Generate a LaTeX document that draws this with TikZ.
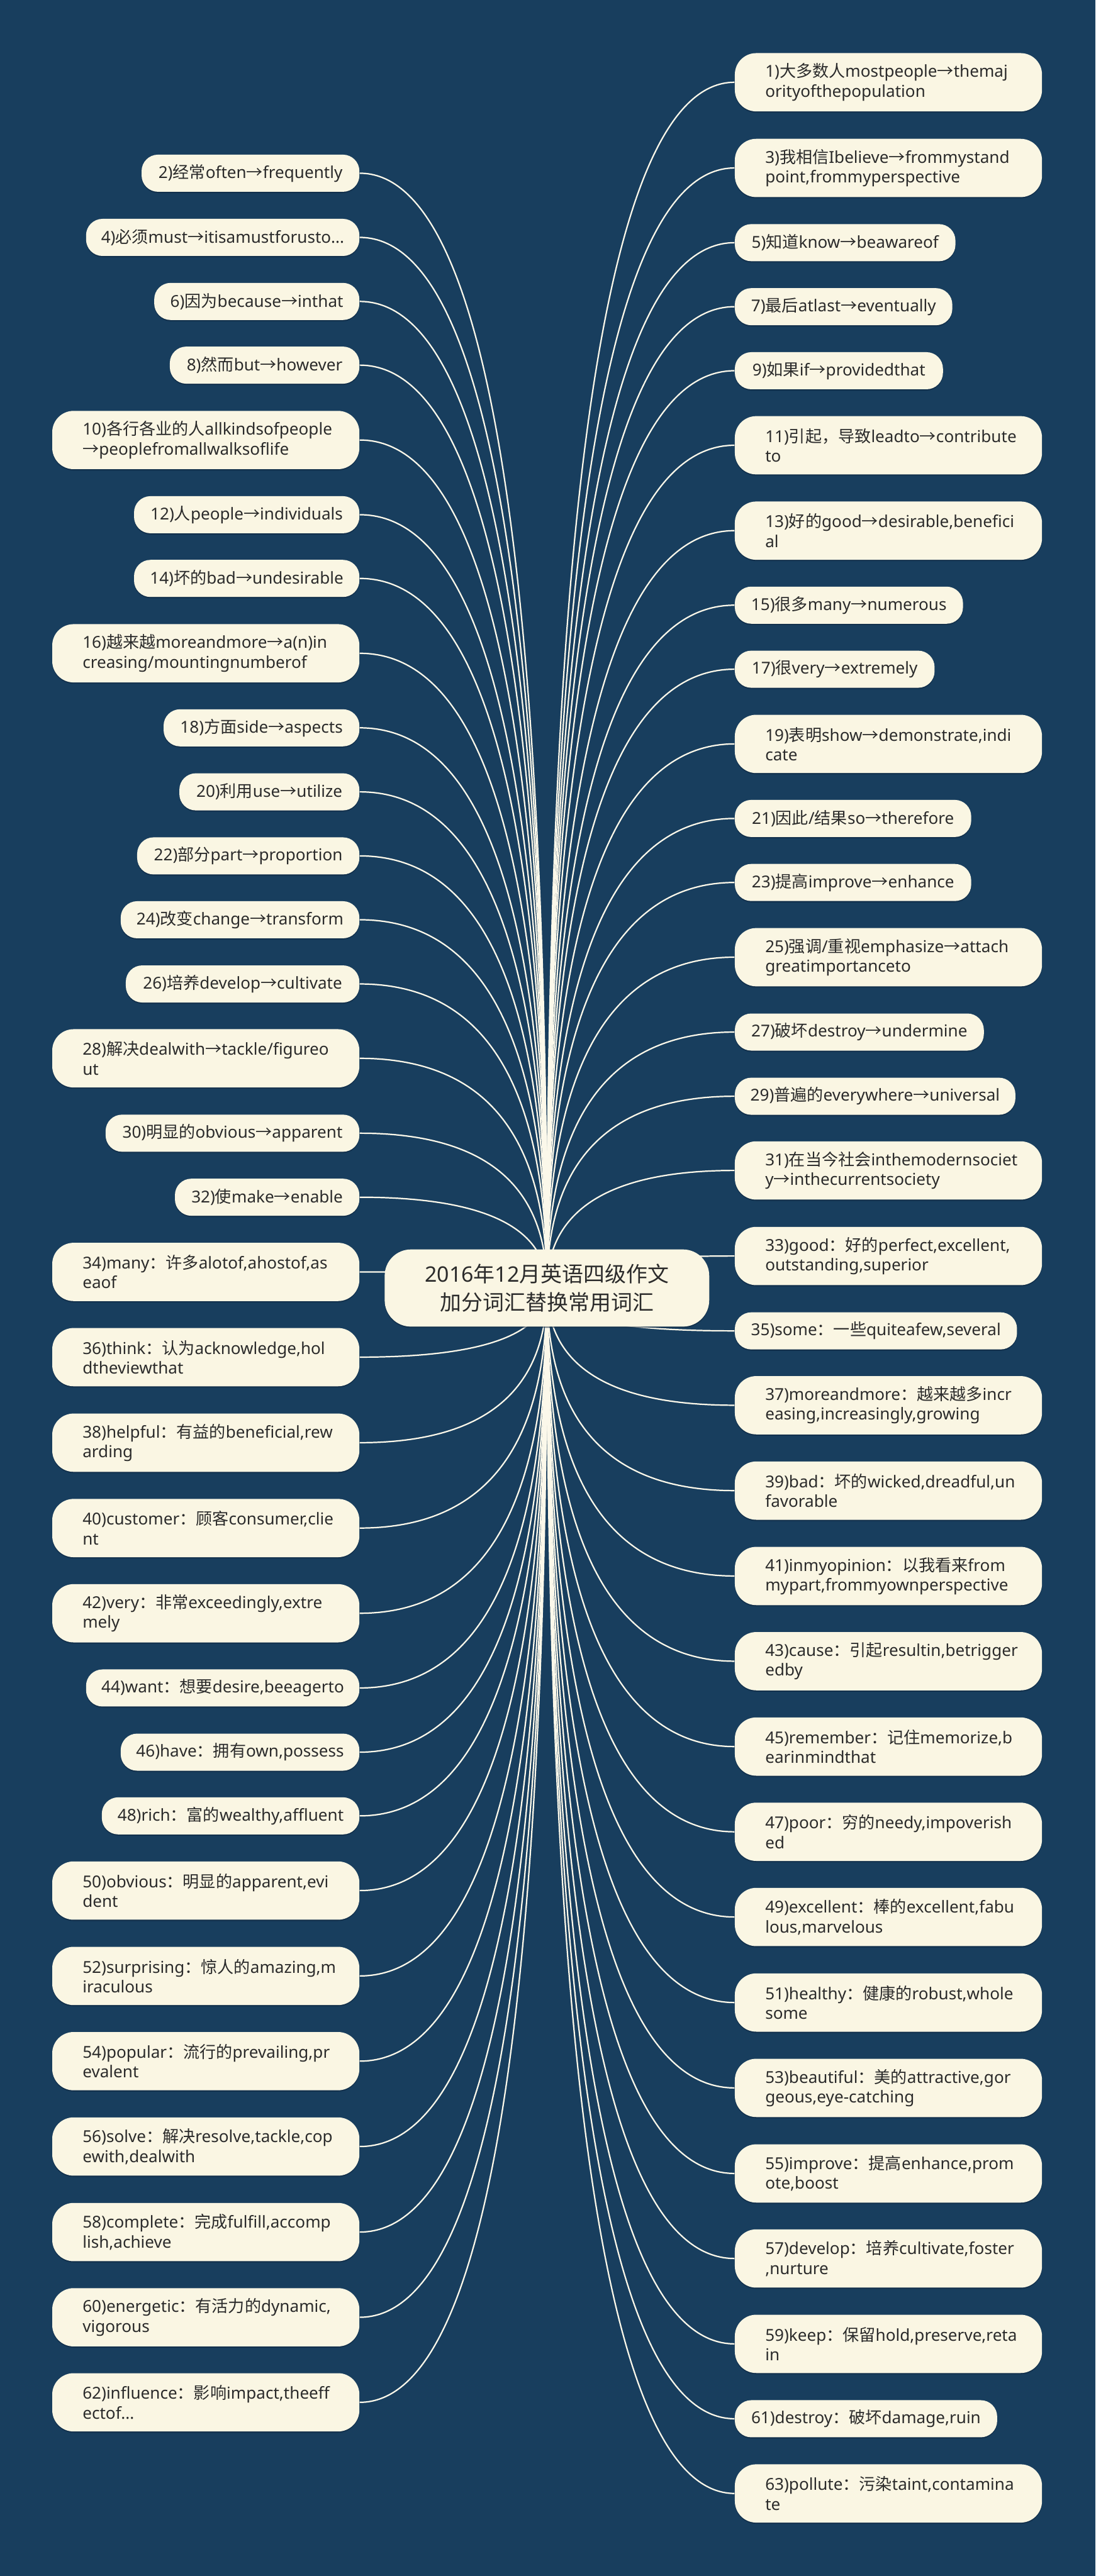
\documentclass[tikz,border=0pt]{standalone}
\usepackage{fontspec}
\setmainfont{Noto Sans}
\newfontfamily\cjkfont{Noto Sans CJK SC}
\usetikzlibrary{calc,shadows}
\chardef\cjkcls=100
\newcount\mycnt
\def\setcls#1#2#3{\mycnt=#1 \loop\XeTeXcharclass\mycnt=#3\relax\ifnum\mycnt<#2 \advance\mycnt by 1 \repeat}
\setcls{"20}{"7E}{0}
\setcls{"3000}{"303F}{\cjkcls}
\setcls{"4E00}{"9FFF}{\cjkcls}
\setcls{"FF00}{"FFEF}{\cjkcls}
\XeTeXcharclass"2192=\cjkcls
\XeTeXinterchartokenstate=1
\XeTeXinterchartoks 0 \cjkcls = {\cjkfont}
\XeTeXinterchartoks 4095 \cjkcls = {\cjkfont}
\XeTeXinterchartoks \cjkcls 0 = {\normalfont}
\XeTeXinterchartoks \cjkcls 4095 = {\normalfont}
\definecolor{bgc}{HTML}{183E5E}
\definecolor{cream}{HTML}{FAF6E3}
\definecolor{linec}{HTML}{FBF8EA}
\definecolor{txt}{HTML}{2B2B2B}
\definecolor{shcol}{HTML}{0E2740}
\pgfdeclarelayer{bgl}
\pgfdeclarelayer{lnl}
\pgfsetlayers{bgl,lnl,main}
\newcommand\lsgl[4]{\node[sgl, anchor=east, minimum width=#3pt] (#1) at (219,#2) {#4};}
\newcommand\rsgl[4]{\node[sgl, anchor=west, minimum width=#3pt] (#1) at (447.2,#2) {#4};}
\newcommand\ldbl[4]{\node[dbl, anchor=east] (#1) at (219,#2) {\mbox{#3}\\\mbox{#4}};}
\newcommand\rdbl[4]{\node[dbl, anchor=west] (#1) at (447.2,#2) {\mbox{#3}\\\mbox{#4}};}
\newcommand\lk[2]{\coordinate (q#1) at (c.center |- #1.#2);
  \draw[conn] (c.center) .. controls ($(c.center)!0.6667!(q#1)$) and ($(#1.#2)!0.6667!(q#1)$) .. (#1.#2);}
\begin{document}
\begin{tikzpicture}[x=1pt,y=-1pt,
  box/.style={fill=cream, text=txt, drop shadow={shadow xshift=0pt,shadow yshift=-0.8pt,fill=shcol,opacity=0.6}},
  sgl/.style={box, rounded corners=10pt, minimum height=22.6pt, inner sep=0pt, font=\fontsize{10}{12}\selectfont},
  dbl/.style={box, rounded corners=13pt, minimum height=35.5pt, text width=150pt, inner xsep=18.5pt, inner ysep=0pt, align=left, font=\fontsize{10}{12}\selectfont},
  cnode/.style={box, rounded corners=16pt, minimum width=197.6pt, minimum height=47pt, inner sep=0pt, align=center, font=\fontsize{13}{17.4}\selectfont},
  conn/.style={draw=linec, line width=0.85pt}]
\useasboundingbox (0,0) rectangle (667,1569);
\begin{pgfonlayer}{bgl}
\fill[bgc] (0,0) rectangle (667,1569);
\end{pgfonlayer}
\node[cnode] (c) at (333,784.5) {2016年12月英语四级作文\\加分词汇替换常用词汇};
% left
\lsgl{L2}{105.5}{132.6}{2)经常often→frequently}
\lsgl{L4}{144.6}{166.4}{4)必须must→itisamustforusto...}
\lsgl{L6}{183.6}{124.9}{6)因为because→inthat}
\lsgl{L8}{222.4}{115.4}{8)然而but→however}
\ldbl{L10}{268}{10)各行各业的人allkindsofpeople}{→peoplefromallwalksoflife}
\lsgl{L12}{313.5}{137.2}{12)人people→individuals}
\lsgl{L14}{352.3}{137.2}{14)坏的bad→undesirable}
\ldbl{L16}{397.9}{16)越来越moreandmore→a(n)in}{creasing/mountingnumberof}
\lsgl{L18}{443.3}{119.2}{18)方面side→aspects}
\lsgl{L20}{482.3}{109.6}{20)利用use→utilize}
\lsgl{L22}{521.3}{135.3}{22)部分part→proportion}
\lsgl{L24}{560.2}{145.3}{24)改变change→transform}
\lsgl{L26}{599.3}{142.2}{26)培养develop→cultivate}
\ldbl{L28}{644.6}{28)解决dealwith→tackle/figureo}{ut}
\lsgl{L30}{690.2}{154.5}{30)明显的obvious→apparent}
\lsgl{L32}{729.2}{112.3}{32)使make→enable}
\ldbl{L34}{774.7}{34)many：许多alotof,ahostof,as}{eaof}
\ldbl{L36}{826.6}{36)think：认为acknowledge,hol}{dtheviewthat}
\ldbl{L38}{878.7}{38)helpful：有益的beneficial,rew}{arding}
\ldbl{L40}{930.7}{40)customer：顾客consumer,clie}{nt}
\ldbl{L42}{982.6}{42)very：非常exceedingly,extre}{mely}
\lsgl{L44}{1028.1}{166.4}{44)want：想要desire,beeagerto}
\lsgl{L46}{1067.2}{145.3}{46)have：拥有own,possess}
\lsgl{L48}{1106}{156.8}{48)rich：富的wealthy,affluent}
\ldbl{L50}{1151.5}{50)obvious：明显的apparent,evi}{dent}
\ldbl{L52}{1203.5}{52)surprising：惊人的amazing,m}{iraculous}
\ldbl{L54}{1255.4}{54)popular：流行的prevailing,pr}{evalent}
\ldbl{L56}{1307.4}{56)solve：解决resolve,tackle,cop}{ewith,dealwith}
\ldbl{L58}{1359.5}{58)complete：完成fulfill,accomp}{lish,achieve}
\ldbl{L60}{1411.4}{60)energetic：有活力的dynamic,}{vigorous}
\ldbl{L62}{1463.2}{62)influence：影响impact,theeff}{ectof...}
% right
\rdbl{R1}{50.1}{1)大多数人mostpeople→themaj}{orityofthepopulation}
\rdbl{R3}{102.3}{3)我相信Ibelieve→frommystand}{point,frommyperspective}
\rsgl{R5}{147.8}{134.3}{5)知道know→beawareof}
\rsgl{R7}{186.8}{132.4}{7)最后atlast→eventually}
\rsgl{R9}{225.8}{126.7}{9)如果if→providedthat}
\rdbl{R11}{271.2}{11)引起，导致leadto→contribute}{to}
\rdbl{R13}{323.2}{13)好的good→desirable,benefici}{al}
\rsgl{R15}{368.6}{138.9}{15)很多many→numerous}
\rsgl{R17}{407.6}{121.6}{17)很very→extremely}
\rdbl{R19}{453.1}{19)表明show→demonstrate,indi}{cate}
\rsgl{R21}{498.5}{143.9}{21)因此/结果so→therefore}
\rsgl{R23}{537.5}{143.9}{23)提高improve→enhance}
\rdbl{R25}{583}{25)强调/重视emphasize→attach}{greatimportanceto}
\rsgl{R27}{628.6}{151.6}{27)破坏destroy→undermine}
\rsgl{R29}{667.7}{170.8}{29)普遍的everywhere→universal}
\rdbl{R31}{712.9}{31)在当今社会inthemodernsociet}{y→inthecurrentsociety}
\rdbl{R33}{765}{33)good：好的perfect,excellent,}{outstanding,superior}
\rsgl{R35}{810.6}{171.8}{35)some：一些quiteafew,several}
\rdbl{R37}{855.9}{37)moreandmore：越来越多incr}{easing,increasingly,growing}
\rdbl{R39}{907.9}{39)bad：坏的wicked,dreadful,un}{favorable}
\rdbl{R41}{959.9}{41)inmyopinion：以我看来from}{mypart,frommyownperspective}
\rdbl{R43}{1011.8}{43)cause：引起resultin,betrigger}{edby}
\rdbl{R45}{1063.8}{45)remember：记住memorize,b}{earinmindthat}
\rdbl{R47}{1115.7}{47)poor：穷的needy,impoverish}{ed}
\rdbl{R49}{1167.6}{49)excellent：棒的excellent,fabu}{lous,marvelous}
\rdbl{R51}{1219.7}{51)healthy：健康的robust,whole}{some}
\rdbl{R53}{1271.7}{53)beautiful：美的attractive,gor}{geous,eye-catching}
\rdbl{R55}{1323.8}{55)improve：提高enhance,prom}{ote,boost}
\rdbl{R57}{1375.6}{57)develop：培养cultivate,foster}{,nurture}
\rdbl{R59}{1427.6}{59)keep：保留hold,preserve,reta}{in}
\rsgl{R61}{1473.2}{159.7}{61)destroy：破坏damage,ruin}
\rdbl{R63}{1518.7}{63)pollute：污染taint,contamina}{te}
\begin{pgfonlayer}{lnl}
\foreach \i in {2,4,...,62} {\lk{L\i}{east}}
\foreach \i in {1,3,...,63} {\lk{R\i}{west}}
\end{pgfonlayer}
\end{tikzpicture}
\end{document}
